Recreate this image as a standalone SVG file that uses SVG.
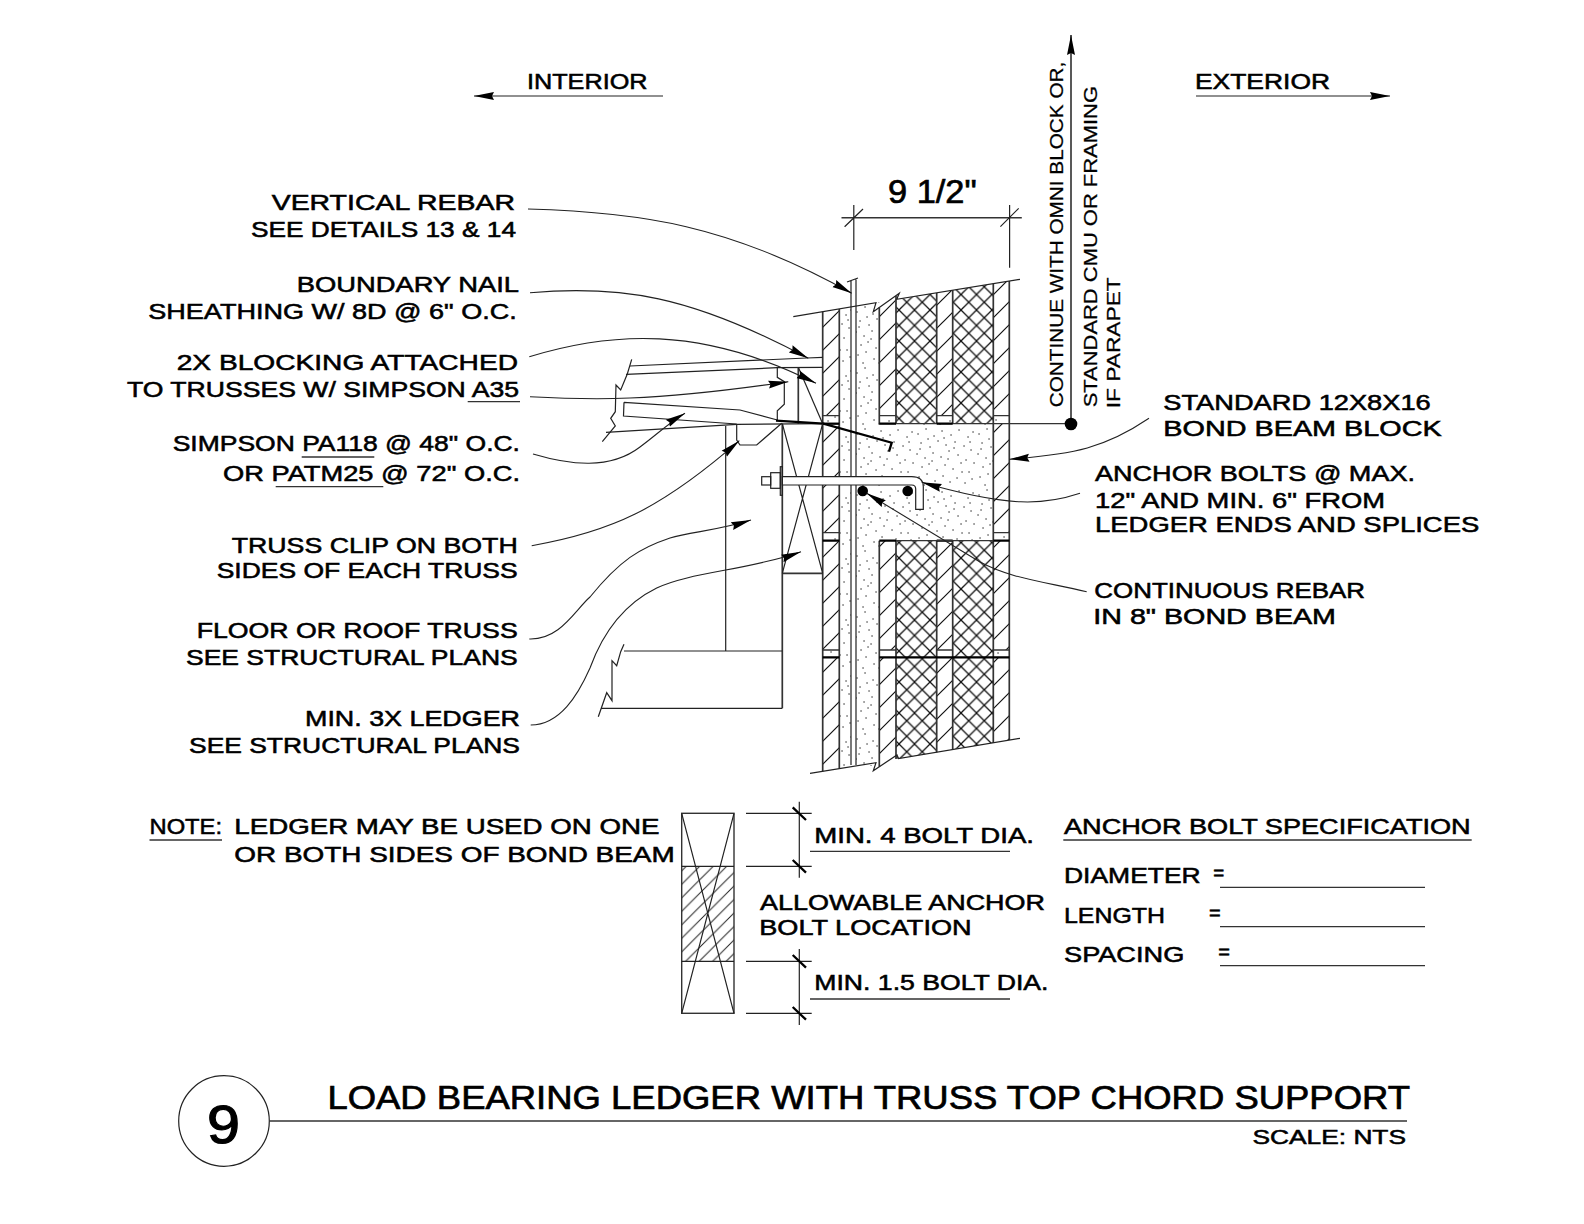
<svg xmlns="http://www.w3.org/2000/svg" width="1584" height="1224" viewBox="0 0 1584 1224">
<style>
text{font-family:"Liberation Sans",Arial,sans-serif;fill:#000;stroke:#000;stroke-width:.55;font-size:22px;letter-spacing:0}
.v{font-size:18px;stroke-width:.25}
.l{fill:none;stroke:#222;stroke-width:1.2}
.w{fill:none;stroke:#333;stroke-width:1.7}
.t{fill:none;stroke:#000;stroke-width:2.3}
.u{fill:none;stroke:#333;stroke-width:1.3}
.ld{fill:none;stroke:#222;stroke-width:1.1;marker-end:url(#ah)}
.h{fill:url(#hatch);stroke:none}
.x{fill:url(#cross);stroke:none}
.s{fill:url(#stip);stroke:none}
.d{fill:#fff;stroke:none}
</style>
<defs>
<marker id="ah" markerUnits="userSpaceOnUse" markerWidth="22" markerHeight="10" viewBox="0 -5 22 10" refX="20" refY="0" orient="auto"><path d="M0 -4L20 0L0 4L2 0z" fill="#000"/></marker>
<pattern id="hatch" patternUnits="userSpaceOnUse" width="23" height="23"><path d="M-2 25L25 -2M-2 2L2 -2M21 25L25 21" stroke="#111" stroke-width="1.2" fill="none"/></pattern>
<pattern id="hatch2" patternUnits="userSpaceOnUse" width="13.5" height="13.5"><path d="M-2 15.5L15.5 -2M-2 2L2 -2M11.5 15.5L15.5 11.5" stroke="#222" stroke-width="1" fill="none"/></pattern>
<pattern id="cross" patternUnits="userSpaceOnUse" width="15.5" height="15.5"><path d="M0 15.5L15.5 0M0 0L15.5 15.5" stroke="#111" stroke-width="1.3" fill="none"/></pattern>
<pattern id="stip" patternUnits="userSpaceOnUse" width="61" height="61"><path d="M3 7h.1M11 2h.1M19 9h.1M27 4h.1M36 8h.1M44 3h.1M53 10h.1M58 5h.1M6 16h.1M15 20h.1M23 14h.1M31 18h.1M40 15h.1M49 19h.1M56 23h.1M2 27h.1M10 31h.1M18 26h.1M26 30h.1M34 24h.1M43 28h.1M51 33h.1M59 36h.1M7 40h.1M14 37h.1M22 43h.1M30 38h.1M38 42h.1M46 36h.1M54 45h.1M4 50h.1M12 47h.1M20 54h.1M28 49h.1M35 55h.1M42 51h.1M50 56h.1M57 52h.1M9 58h.1M25 58h.1M33 32h.1M47 45h.1M17 34h.1M39 21h.1M5 22h.1M55 15h.1M29 11h.1M13 12h.1" stroke="#222" stroke-width="1.3" stroke-linecap="round" fill="none"/></pattern>
</defs>
<rect width="1584" height="1224" fill="#fff"/>

<g id="wall">
<polygon class="s" points="839.3,308.9 851,307 851,766 839.3,768.6"/>
<polygon class="s" points="856,306 879.3,302 879.3,423.7 993.3,423.7 993.3,540.7 879.3,540.7 879.3,766 856,766"/>
<polygon class="h" points="822.7,311.7 839.3,308.9 839.3,768.6 822.7,771.3"/>
<polygon class="h" points="879.3,307.5 896,296 896,415.7 879.3,415.7"/>
<polygon class="h" points="879.3,540.7 896,540.7 896,755.6 879.3,766.7"/>
<polygon class="x" points="896,299.4 936.7,292.9 936.7,423.7 896,423.7"/>
<polygon class="x" points="896,540.7 936.7,540.7 936.7,752.2 896,759"/>
<polygon class="h" points="936.7,292.9 952.7,290.3 952.7,415.7 936.7,415.7"/>
<polygon class="h" points="936.7,540.7 952.7,540.7 952.7,749.5 936.7,752.2"/>
<polygon class="x" points="952.7,290.3 993.3,283.7 993.3,423.7 952.7,423.7"/>
<polygon class="x" points="952.7,540.7 993.3,540.7 993.3,742.8 952.7,749.5"/>
<polygon class="h" points="993.3,283.7 1009.3,281.1 1009.3,740.1 993.3,742.8"/>
<g id="joints">
<rect class="d" x="822.7" y="415.7" width="16.6" height="8"/><rect class="s" x="822.7" y="415.7" width="16.6" height="8"/>
<rect class="s" x="879.3" y="415.7" width="16.7" height="8"/><rect class="s" x="936.7" y="415.7" width="16" height="8"/>
<rect class="d" x="993.3" y="415.7" width="16" height="8"/><rect class="s" x="993.3" y="415.7" width="16" height="8"/>
<rect class="d" x="822.7" y="532.7" width="16.6" height="8"/><rect class="s" x="822.7" y="532.7" width="16.6" height="8"/>
<rect class="d" x="993.3" y="532.7" width="16" height="8"/><rect class="s" x="993.3" y="532.7" width="16" height="8"/>
<rect class="d" x="822.7" y="650" width="16.6" height="7.3"/><rect class="s" x="822.7" y="650" width="16.6" height="7.3"/>
<rect class="d" x="993.3" y="650" width="16" height="7.3"/><rect class="s" x="993.3" y="650" width="16" height="7.3"/>
<rect class="d" x="879.3" y="650" width="16.7" height="7.3"/><rect class="d" x="936.7" y="650" width="16" height="7.3"/>
</g>
<path class="w" d="M822.7 311.7V771.3M839.3 308.9V768.6M879.3 307.5V423.7M879.3 540.7V766.7M896 296V423.7M896 540.7V759M936.7 292.9V423.7M936.7 540.7V752.2M952.7 290.3V423.7M952.7 540.7V749.5M993.3 283.7V742.8M1009.3 281.1V740.1"/>
<path class="l" d="M851 280.5V765M856 279.5V765M847 282L858 278"/>
<path class="l" d="M793.3 316.7L876 302.7L873.3 311.7L899.3 293.3L896.7 299.3L1020 279.3"/>
<path class="l" d="M810 773.3L876 762.7L873.3 770.7L897 755L898.5 758.5L1020 738.3"/>
<path class="w" style="stroke-width:1.3" d="M822.7 415.7H839.3M879.3 415.7H896M936.7 415.7H952.7M993.3 415.7H1009.3M822.7 532.7H839.3M993.3 532.7H1009.3M822.7 650H839.3M879.3 650H896M936.7 650H952.7M993.3 650H1009.3M879.3 423.7H1071"/>
<path class="t" d="M822.7 540.7H839.3M879.3 540.7H896M936.7 540.7H952.7M993.3 540.7H1009.3M879.3 423.7H896M936.7 423.7H952.7M822.7 657.3H839.3M879.3 657.3H1009.3"/>
<path class="u" d="M896 540.7H993.3"/>
</g>

<g id="framing">
<path class="l" d="M631.7 359.3L627.3 374L620.7 390L616 385L615.3 411.7L610.7 418.3L615.3 426L602.3 441.7"/>
<path class="l" d="M630 366L806.7 358L822.7 357.3M626 374.3L777.3 367.7L822.7 367.3"/>
<path class="l" d="M777.3 367.3V377.3L784.3 381.7V404.3L777.3 410.7V420.7"/>
<path class="w" d="M798.3 367.3V423.7"/>
<path class="l" d="M798.3 367.3L822.7 423.7"/>
<path class="l" d="M624 402.3L740 410L777.3 420M624 402.3L623.5 416L736.7 424"/>
<path class="l" d="M606 432.3L736.7 424.3L823 423.7"/>
<path class="t" d="M776 420.7L823.3 423.7L891.7 442.7L889 451.7"/>
<path class="t" d="M823 423.7H839.3"/>
<path class="l" d="M736.7 424V440L740 445H756.7L781.7 423.3"/>
<path class="l" d="M725.7 426V651"/>
<path class="w" d="M782.3 423.7V708.3M782.3 573.3H822.7"/>
<path class="l" d="M782.3 423.7L822.7 573.3M822.7 423.7L782.3 573.3"/>
<path class="l" d="M624 651H782.3M601 708.3H782.3"/>
<path class="l" d="M624 644.3L620.7 651.7L616.7 665.7L612 660.7V700.7L606.7 692.7L598.3 716.7"/>
</g>

<g id="anchor-bolt">
<path class="l" style="fill:#fff" d="M782.3 476.7H911.7Q923.3 476.7 923.3 486.7V509.3H915.7V489Q915.7 485 911.7 485H782.3Z"/>
<rect class="l" x="761.7" y="476.7" width="9" height="8.3"/>
<rect class="l" x="770.7" y="472.7" width="9.6" height="15.6"/>
<rect class="l" x="780.3" y="466.7" width="2" height="28.6"/>
<circle cx="862.7" cy="491" r="5.3" fill="#000"/>
<circle cx="907.7" cy="491" r="5.3" fill="#000"/>
</g>

<g id="dimension">
<path class="w" style="stroke-width:1.5" d="M841.5 217.7H1021.8"/>
<path class="l" d="M853.8 205V250M1009.6 205V267.7M844.6 226.7L863 209M1000.4 226.7L1018.7 208.3"/>
<text style="font-size:34px;stroke-width:.7" x="888" y="202.7" textLength="88.7" lengthAdjust="spacingAndGlyphs">9 1/2"</text>
</g>

<g id="connectors">
<path class="ld" d="M528 209C640 212 730 225 851.7 293.3"/>
<path class="ld" d="M530 292.7C620 285 690 295 808.3 358.3"/>
<path class="ld" d="M529.3 356.7C610 332 700 325 816 383.3"/>
<path class="ld" d="M530 396.7C590 400 650 402 788.3 381.7"/>
<path class="ld" d="M533 454C570 465 610 470 640 447C655 436 670 422 685 413.3"/>
<path class="ld" d="M531.7 545.7C610 532 660 510 739.3 440.7"/>
<path class="ld" d="M529.3 639C560 640 575 610 590 597C620 560 640 548 670 538C690 532 720 530 751 520"/>
<path class="ld" d="M530.7 725C560 725 578 695 590 668C602 635 622 605 656.7 588C690 572 750 570 801 551.7"/>
<path class="ld" d="M1149 418.3C1105 448 1075 454 1009.3 459.3"/>
<path class="ld" d="M1080 493.3C1045 505 1010 508 921.7 482.3"/>
<path class="ld" d="M1086.7 591.7C1040 581 1010 578 980 562L866.7 493.3"/>
<path class="ld" d="M663 96H474"/>
<path class="ld" d="M1196 96H1390"/>
<path class="ld" style="stroke-width:1.5" d="M1071 424V35"/>
<circle cx="1071" cy="424" r="6.3" fill="#000"/>
</g>

<g id="labels-left">
<text x="271.7" y="210" textLength="243.3" lengthAdjust="spacingAndGlyphs">VERTICAL REBAR</text>
<text x="251" y="236.5" textLength="265" lengthAdjust="spacingAndGlyphs">SEE DETAILS 13 &amp; 14</text>
<text x="296.7" y="292.3" textLength="222.3" lengthAdjust="spacingAndGlyphs">BOUNDARY NAIL</text>
<text x="148.3" y="319.3" textLength="368.4" lengthAdjust="spacingAndGlyphs">SHEATHING W/ 8D @ 6" O.C.</text>
<text x="176.7" y="370" textLength="341.3" lengthAdjust="spacingAndGlyphs">2X BLOCKING ATTACHED</text>
<text x="127" y="396.7" textLength="392" lengthAdjust="spacingAndGlyphs">TO TRUSSES W/ SIMPSON A35</text>
<path class="u" d="M467.7 401.7H520M301.7 457H374.3M275.7 486.7H383.3"/>
<text x="172.7" y="450.7" textLength="347.3" lengthAdjust="spacingAndGlyphs">SIMPSON PA118 @ 48" O.C.</text>
<text x="223" y="481" textLength="297" lengthAdjust="spacingAndGlyphs">OR PATM25 @ 72" O.C.</text>
<text x="231.7" y="552.7" textLength="286" lengthAdjust="spacingAndGlyphs">TRUSS CLIP ON BOTH</text>
<text x="216.7" y="578.3" textLength="301" lengthAdjust="spacingAndGlyphs">SIDES OF EACH TRUSS</text>
<text x="196.7" y="638.3" textLength="321" lengthAdjust="spacingAndGlyphs">FLOOR OR ROOF TRUSS</text>
<text x="186" y="665" textLength="331.7" lengthAdjust="spacingAndGlyphs">SEE STRUCTURAL PLANS</text>
<text x="305" y="725.7" textLength="215" lengthAdjust="spacingAndGlyphs">MIN. 3X LEDGER</text>
<text x="189" y="753.3" textLength="331" lengthAdjust="spacingAndGlyphs">SEE STRUCTURAL PLANS</text>
</g>

<g id="labels-right">
<text x="527" y="89.3" textLength="120.5" lengthAdjust="spacingAndGlyphs">INTERIOR</text>
<text x="1195" y="89" textLength="135" lengthAdjust="spacingAndGlyphs">EXTERIOR</text>
<text class="v" transform="rotate(-90 1062.7 407.3)" x="1062.7" y="407.3" textLength="345.6" lengthAdjust="spacingAndGlyphs">CONTINUE WITH OMNI BLOCK OR,</text>
<text class="v" transform="rotate(-90 1096.7 407.3)" x="1096.7" y="407.3" textLength="321.3" lengthAdjust="spacingAndGlyphs">STANDARD CMU OR FRAMING</text>
<text class="v" transform="rotate(-90 1120 408.3)" x="1120" y="408.3" textLength="131" lengthAdjust="spacingAndGlyphs">IF PARAPET</text>
<text x="1163.3" y="409.7" textLength="267.4" lengthAdjust="spacingAndGlyphs">STANDARD 12X8X16</text>
<text x="1163.3" y="435.7" textLength="278.4" lengthAdjust="spacingAndGlyphs">BOND BEAM BLOCK</text>
<text x="1095" y="481.3" textLength="320" lengthAdjust="spacingAndGlyphs">ANCHOR BOLTS @ MAX.</text>
<text x="1095" y="508.3" textLength="290" lengthAdjust="spacingAndGlyphs">12" AND MIN. 6" FROM</text>
<text x="1095" y="532.3" textLength="384.3" lengthAdjust="spacingAndGlyphs">LEDGER ENDS AND SPLICES</text>
<text x="1094.3" y="598.3" textLength="270.7" lengthAdjust="spacingAndGlyphs">CONTINUOUS REBAR</text>
<text x="1093.3" y="624.3" textLength="242.7" lengthAdjust="spacingAndGlyphs">IN 8" BOND BEAM</text>
</g>

<g id="ledger-section">
<rect x="681.7" y="866.3" width="52.3" height="95" fill="url(#hatch2)"/>
<rect class="w" style="stroke-width:1.4" x="681.7" y="813.3" width="52.3" height="200"/>
<path class="l" d="M681.7 866.3H734M681.7 961.3H734M681.7 813.3L734 1013.3M734 813.3L681.7 1013.3"/>
<path class="l" d="M746 813.3H811.7M746 866.3H811.7M746 961.3H811.7M746 1013.3H811.7M799.3 801.7V877.7M799.3 949V1025"/>
<path class="t" d="M792.7 807.3L806 820M792.7 860L806 872.7M792.7 955L806 967.7M792.7 1007L806 1019.7"/>
<path class="u" d="M810 851.3H1010M810 999H1010"/>
<text x="814.3" y="843.3" textLength="219.7" lengthAdjust="spacingAndGlyphs">MIN. 4 BOLT DIA.</text>
<text x="760" y="910" textLength="285" lengthAdjust="spacingAndGlyphs">ALLOWABLE ANCHOR</text>
<text x="759.3" y="935" textLength="212.3" lengthAdjust="spacingAndGlyphs">BOLT LOCATION</text>
<text x="814.3" y="990" textLength="234.2" lengthAdjust="spacingAndGlyphs">MIN. 1.5 BOLT DIA.</text>
</g>

<g id="note">
<text x="149.5" y="834" textLength="72.5" lengthAdjust="spacingAndGlyphs">NOTE:</text>
<path class="u" d="M149.5 840H222"/>
<text x="234.3" y="834" textLength="425.2" lengthAdjust="spacingAndGlyphs">LEDGER MAY BE USED ON ONE</text>
<text x="234.3" y="861.5" textLength="440.4" lengthAdjust="spacingAndGlyphs">OR BOTH SIDES OF BOND BEAM</text>
</g>

<g id="spec">
<text x="1064" y="834.3" textLength="406.7" lengthAdjust="spacingAndGlyphs">ANCHOR BOLT SPECIFICATION</text>
<path class="u" d="M1063.3 840H1471.7M1220 887.3H1425M1220 926.7H1425M1220 965.7H1425"/>
<text x="1064" y="883.3" textLength="136.7" lengthAdjust="spacingAndGlyphs">DIAMETER</text>
<text x="1213.3" y="880" textLength="11" lengthAdjust="spacingAndGlyphs" style="font-size:20px">=</text>
<text x="1064" y="923.3" textLength="101" lengthAdjust="spacingAndGlyphs">LENGTH</text>
<text x="1209" y="920" textLength="11.7" lengthAdjust="spacingAndGlyphs" style="font-size:20px">=</text>
<text x="1064" y="962.3" textLength="120.3" lengthAdjust="spacingAndGlyphs">SPACING</text>
<text x="1218.3" y="959" textLength="11.7" lengthAdjust="spacingAndGlyphs" style="font-size:20px">=</text>
</g>

<g id="title-block">
<circle cx="224" cy="1121" r="45.3" fill="none" stroke="#222" stroke-width="1.2"/>
<text style="font-size:54px;stroke-width:1.2" x="207" y="1142.7" textLength="33" lengthAdjust="spacingAndGlyphs">9</text>
<path class="u" d="M269.4 1121H1407"/>
<text style="font-size:33px;stroke-width:.7" x="327.4" y="1109.3" textLength="1082.6" lengthAdjust="spacingAndGlyphs">LOAD BEARING LEDGER WITH TRUSS TOP CHORD SUPPORT</text>
<text style="font-size:21px" x="1252.5" y="1143.5" textLength="153.5" lengthAdjust="spacingAndGlyphs">SCALE: NTS</text>
</g>
</svg>
